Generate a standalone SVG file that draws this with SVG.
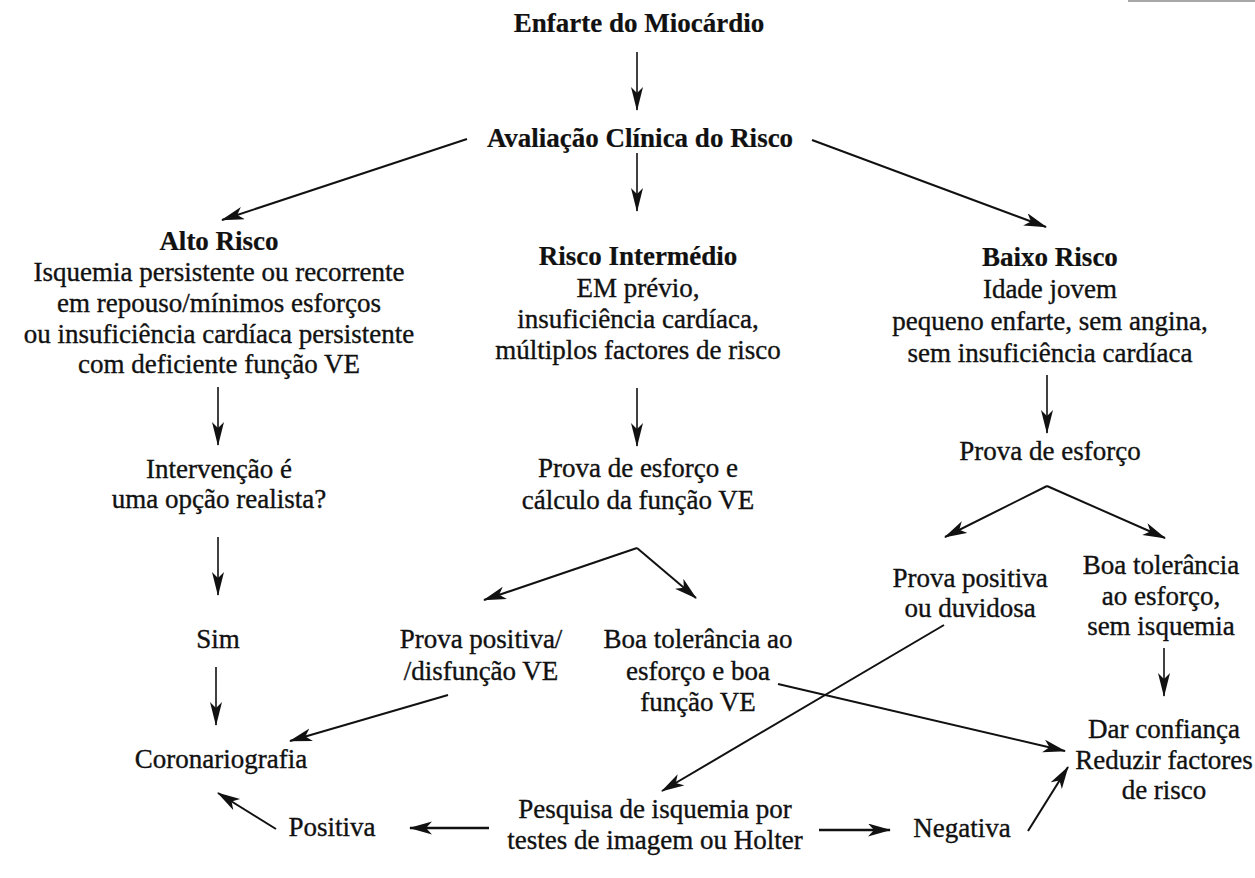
<svg xmlns="http://www.w3.org/2000/svg" width="1255" height="878" viewBox="0 0 1255 878">
<style>
text{font-family:"Liberation Serif","Times New Roman",serif;font-size:27px;fill:#111;stroke:#111;stroke-width:0.35;text-anchor:middle}
.b{font-weight:bold;stroke-width:0.2}
.thin{stroke:#111;stroke-width:1.6;fill:none}
.thick{stroke:#111;stroke-width:2;fill:none}
.heavy{stroke:#111;stroke-width:2.4;fill:none}
</style>
<defs>
<marker id="ah" markerUnits="userSpaceOnUse" markerWidth="26" markerHeight="14" refX="23" refY="6" orient="auto">
<path d="M0,0 L24,6 L0,12 L6,6 z" fill="#111"/>
</marker>
<marker id="ahw" markerUnits="userSpaceOnUse" markerWidth="26" markerHeight="15" refX="22" refY="6.5" orient="auto">
<path d="M0,0 L23,6.5 L0,13 L6,6.5 z" fill="#111"/>
</marker>
</defs>
<rect width="1255" height="878" fill="#fff"/>
<line x1="1128" y1="1" x2="1255" y2="1" stroke="#8a8a8a" stroke-width="1.5"/>

<g id="n-enfarte"><text class="b" x="639" y="32">Enfarte do Miocárdio</text></g>
<g id="n-avaliacao"><text class="b" x="640" y="147">Avaliação Clínica do Risco</text></g>
<g id="n-alto">
<text class="b" x="219" y="250">Alto Risco</text>
<text x="219" y="281">Isquemia persistente ou recorrente</text>
<text x="219" y="312">em repouso/mínimos esforços</text>
<text x="219" y="343">ou insuficiência cardíaca persistente</text>
<text x="219" y="373">com deficiente função VE</text>
</g>
<g id="n-intermedio">
<text class="b" x="638" y="265">Risco Intermédio</text>
<text x="638" y="297">EM prévio,</text>
<text x="638" y="328">insuficiência cardíaca,</text>
<text x="638" y="359">múltiplos factores de risco</text>
</g>
<g id="n-baixo">
<text class="b" x="1050" y="266">Baixo Risco</text>
<text x="1050" y="298">Idade jovem</text>
<text x="1050" y="330">pequeno enfarte, sem angina,</text>
<text x="1050" y="362">sem insuficiência cardíaca</text>
</g>
<g id="n-intervencao">
<text x="219" y="478">Intervenção é</text>
<text x="219" y="508">uma opção realista?</text>
</g>
<g id="n-prova-ve">
<text x="638" y="477">Prova de esforço e</text>
<text x="638" y="509">cálculo da função VE</text>
</g>
<g id="n-prova-baixo"><text x="1050" y="460">Prova de esforço</text></g>
<g id="n-sim"><text x="218" y="648">Sim</text></g>
<g id="n-positiva-disf">
<text x="481" y="648">Prova positiva/</text>
<text x="481" y="680">/disfunção VE</text>
</g>
<g id="n-boa-ve">
<text x="698" y="648">Boa tolerância ao</text>
<text x="698" y="680">esforço e boa</text>
<text x="698" y="711">função VE</text>
</g>
<g id="n-positiva-duv">
<text x="970" y="587">Prova positiva</text>
<text x="970" y="617">ou duvidosa</text>
</g>
<g id="n-boa-baixo">
<text x="1161" y="574">Boa tolerância</text>
<text x="1161" y="605">ao esforço,</text>
<text x="1161" y="635">sem isquemia</text>
</g>
<g id="n-coronario"><text x="221" y="768">Coronariografia</text></g>
<g id="n-confianca">
<text x="1164" y="738">Dar confiança</text>
<text x="1164" y="769">Reduzir factores</text>
<text x="1164" y="799">de risco</text>
</g>
<g id="n-pesquisa">
<text x="655" y="818">Pesquisa de isquemia por</text>
<text x="655" y="849">testes de imagem ou Holter</text>
</g>
<g id="n-positiva"><text x="332" y="836">Positiva</text></g>
<g id="n-negativa"><text x="962" y="837">Negativa</text></g>

<g id="connectors">
<line class="thin" x1="637" y1="52" x2="637" y2="110" marker-end="url(#ah)"/>
<line class="thin" x1="637" y1="153" x2="637" y2="211" marker-end="url(#ah)"/>
<line class="thick" x1="467" y1="139" x2="222" y2="220" marker-end="url(#ahw)"/>
<line class="thick" x1="812" y1="140" x2="1046" y2="227" marker-end="url(#ahw)"/>
<line class="thin" x1="218" y1="387" x2="218" y2="445" marker-end="url(#ah)"/>
<line class="thin" x1="637" y1="388" x2="637" y2="446" marker-end="url(#ah)"/>
<line class="thin" x1="1047" y1="375" x2="1047" y2="433" marker-end="url(#ah)"/>
<line class="thin" x1="218" y1="537" x2="218" y2="595" marker-end="url(#ah)"/>
<line class="thick" x1="637" y1="548" x2="484" y2="600" marker-end="url(#ahw)"/>
<line class="thick" x1="637" y1="548" x2="696" y2="598" marker-end="url(#ahw)"/>
<line class="thick" x1="1047" y1="486" x2="945" y2="537" marker-end="url(#ahw)"/>
<line class="thick" x1="1047" y1="486" x2="1165" y2="538" marker-end="url(#ahw)"/>
<line class="thin" x1="216" y1="667" x2="216" y2="725" marker-end="url(#ah)"/>
<line class="thin" x1="1164" y1="648" x2="1164" y2="696" marker-end="url(#ah)"/>
<line class="thick" x1="448" y1="695" x2="290" y2="741" marker-end="url(#ahw)"/>
<line class="thick" x1="778" y1="684" x2="1065" y2="751" marker-end="url(#ahw)"/>
<line class="thick" x1="944" y1="625" x2="662" y2="791" marker-end="url(#ahw)"/>
<line class="heavy" x1="489" y1="828" x2="410" y2="828" marker-end="url(#ahw)"/>
<line class="heavy" x1="819" y1="830" x2="890" y2="830" marker-end="url(#ahw)"/>
<line class="thick" x1="276" y1="829" x2="218" y2="793" marker-end="url(#ahw)"/>
<line class="thick" x1="1028" y1="831" x2="1068" y2="767" marker-end="url(#ahw)"/>
</g>
</svg>
